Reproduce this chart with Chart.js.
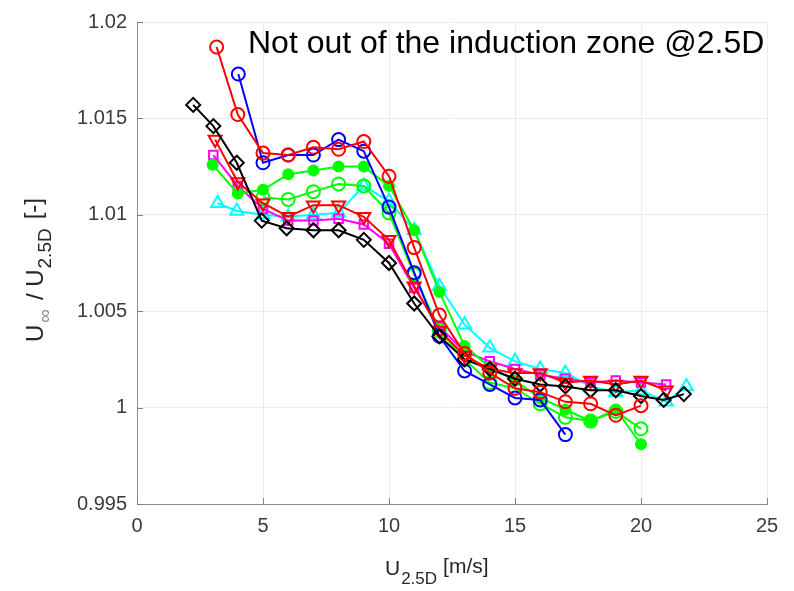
<!DOCTYPE html>
<html>
<head>
<meta charset="utf-8">
<script src="https://cdn.jsdelivr.net/npm/chart.js"></script>
<style>
  html, body { margin: 0; padding: 0; background: #fff; }
  #wrap { width: 794px; height: 591px; position: relative; }
</style>
</head>
<body>
<div id="wrap"><canvas id="chart" width="794" height="591"></canvas></div>
<script>
// wind speed U_2.5D [m/s] and ratio U_inf / U_2.5D
const xTicks = [0, 5, 10, 15, 20, 25];
const yTicks = [0.995, 1, 1.005, 1.01, 1.015, 1.02];

const redCircleX = [3.16, 4, 5, 6, 7, 8, 9, 10, 11, 12, 13, 14, 15, 16, 17, 18, 19, 20];
const redCircleY = [1.0187, 1.0152, 1.0132, 1.0131, 1.0135, 1.0134, 1.0138, 1.0120, 1.0083, 1.0048, 1.0028, 1.0018, 1.0010, 1.0008, 1.0003, 1.0002, 0.9996, 1.0001];

const blueX = [4.02, 5, 6, 7, 8, 9, 10, 11, 12, 13, 14, 15, 16, 17];
const blueY = [1.0173, 1.0127, 1.0131, 1.0131, 1.0139, 1.0133, 1.0104, 1.0070, 1.0037, 1.0019, 1.0012, 1.0005, 1.0004, 0.9986];

const greenFillX = [3, 4, 5, 6, 7, 8, 9, 10, 11, 12, 13, 14, 15, 16, 17, 18, 19, 20];
const greenFillY = [1.0126, 1.0111, 1.0113, 1.0121, 1.0123, 1.0125, 1.0125, 1.0115, 1.0092, 1.0060, 1.0032, 1.0021, 1.0014, 1.0005, 0.9999, 0.9993, 0.9999, 0.9981];

const greenOpenX = [5, 6, 7, 8, 9, 10, 11, 12, 13, 14, 15, 16, 17, 18, 19, 20];
const greenOpenY = [1.0109, 1.0108, 1.0112, 1.0116, 1.0115, 1.0101, 1.0069, 1.0040, 1.0025, 1.0013, 1.0010, 1.0002, 0.9995, 0.9993, 0.9998, 0.9989];

const cyanX = [3.2, 3.96, 5, 6, 7, 8, 9, 10, 11, 12, 13, 14, 15, 16, 17, 18, 19, 20, 21, 21.8];
const cyanY = [1.0106, 1.0102, 1.0100, 1.0099, 1.0100, 1.0101, 1.0115, 1.0107, 1.0092, 1.0063, 1.0043, 1.0031, 1.0024, 1.0020, 1.0018, 1.0011, 1.0008, 1.0009, 1.0003, 1.0011];

const magentaX = [3.03, 4, 5, 6, 7, 8, 9, 10, 11, 12, 13, 14, 15, 16, 17, 18, 19, 20, 21];
const magentaY = [1.0131, 1.0115, 1.0103, 1.0097, 1.0097, 1.0098, 1.0095, 1.0085, 1.0062, 1.0042, 1.0029, 1.0024, 1.0020, 1.0017, 1.0015, 1.0013, 1.0014, 1.0013, 1.0012];

const redTriX = [3.1, 4, 5, 6, 7, 8, 9, 10, 11, 12, 13, 14, 15, 16, 17, 18, 19, 20, 21];
const redTriY = [1.0139, 1.0117, 1.0106, 1.0099, 1.0105, 1.0105, 1.0099, 1.0087, 1.0063, 1.0040, 1.0027, 1.0020, 1.0018, 1.0018, 1.0013, 1.0014, 1.0012, 1.0014, 1.0009];

const blackX = [2.23, 3.03, 3.96, 4.95, 5.94, 7, 8, 9, 10, 11, 12, 13, 14, 15, 16, 17, 18, 19, 20, 20.9, 21.7];
const blackY = [1.0157, 1.0146, 1.0127, 1.0097, 1.0093, 1.0092, 1.0092, 1.0087, 1.0075, 1.0054, 1.0037, 1.0025, 1.0020, 1.0015, 1.0012, 1.0011, 1.0009, 1.0009, 1.0006, 1.0004, 1.0007];

const annotation = 'Not out of the induction zone @2.5D';

function pts(xs, ys) {
  return xs.map((x, i) => ({ x, y: ys[i] }));
}

function series(xs, ys, color, style, opts) {
  return Object.assign({
    data: pts(xs, ys),
    borderColor: color,
    backgroundColor: 'rgba(0,0,0,0)',
    pointBorderColor: color,
    pointBackgroundColor: 'rgba(0,0,0,0)',
    pointStyle: style,
    pointRadius: 6.5,
    pointBorderWidth: 2,
    borderWidth: 2,
    tension: 0,
    showLine: true
  }, opts || {});
}

// draws axis titles (with subscripts), inward ticks and the text label
const decorations = {
  id: 'decorations',
  afterDraw(chart) {
    const ctx = chart.ctx;
    const xs = chart.scales.x, ys = chart.scales.y;
    const a = chart.chartArea;
    ctx.save();

    // inward tick marks
    ctx.strokeStyle = '#7f7f7f';
    ctx.lineWidth = 1;
    xTicks.forEach(v => {
      const px = Math.round(xs.getPixelForValue(v)) + 0.5;
      ctx.beginPath(); ctx.moveTo(px, a.bottom); ctx.lineTo(px, a.bottom - 6); ctx.stroke();
    });
    yTicks.forEach(v => {
      const py = Math.round(ys.getPixelForValue(v)) + 0.5;
      ctx.beginPath(); ctx.moveTo(a.left, py); ctx.lineTo(a.left + 6, py); ctx.stroke();
    });

    // x title: U_2.5D [m/s]
    ctx.fillStyle = '#262626';
    ctx.textBaseline = 'alphabetic';
    ctx.textAlign = 'left';
    const big = '21px "Liberation Sans", Arial, sans-serif';
    const small = '17px "Liberation Sans", Arial, sans-serif';
    let x = 385, base = 575;
    ctx.font = big; ctx.fillText('U', x, base); x += ctx.measureText('U').width + 1;
    ctx.font = small; ctx.fillText('2.5D', x, base + 9); x += ctx.measureText('2.5D').width + 6;
    ctx.font = big; ctx.fillText('[m/s]', x, base - 2);

    // y title: U_inf / U_2.5D [-]
    ctx.translate(43, 342);
    ctx.rotate(-Math.PI / 2);
    const yBig = '24px "Liberation Sans", Arial, sans-serif';
    const ySmall = '19px "Liberation Sans", Arial, sans-serif';
    x = 0; base = 0;
    ctx.font = yBig; ctx.fillText('U', x, base); x += ctx.measureText('U').width + 2;
    ctx.font = ySmall; ctx.fillStyle = '#8a8a8a'; ctx.fillText('\u221E', x, base + 8); x += ctx.measureText('\u221E').width + 9;
    ctx.fillStyle = '#262626';
    ctx.font = yBig; ctx.fillText('/ U', x, base); x += ctx.measureText('/ U').width + 1;
    ctx.font = ySmall; ctx.fillText('2.5D', x, base + 8); x += ctx.measureText('2.5D').width + 9;
    ctx.font = yBig; ctx.fillText('[-]', x, base - 2);
    ctx.restore();

    // annotation
    ctx.save();
    ctx.fillStyle = '#000';
    ctx.font = '32px "Liberation Sans", Arial, sans-serif';
    ctx.textAlign = 'left';
    ctx.textBaseline = 'alphabetic';
    ctx.fillText(annotation, 248, 53);
    ctx.restore();
  }
};

const tickFont = { family: '"Liberation Sans", Arial, sans-serif', size: 20 };

new Chart(document.getElementById('chart'), {
  type: 'scatter',
  data: {
    datasets: [
      series(redCircleX, redCircleY, '#ff0000', 'circle'),
      series(blackX, blackY, '#000000', 'rectRot', { pointRadius: 7 }),
      series(redTriX, redTriY, '#ff0000', 'triangle', { pointRadius: 7.5, pointRotation: 180 }),
      series(blueX, blueY, '#0000ff', 'circle'),
      series(greenFillX, greenFillY, '#00ff00', 'circle', { pointRadius: 5, pointBackgroundColor: '#00ff00' }),
      series(greenOpenX, greenOpenY, '#00ff00', 'circle'),
      series(magentaX, magentaY, '#ff00ff', 'rect', { pointRadius: 6 }),
      series(cyanX, cyanY, '#00ffff', 'triangle', { pointRadius: 7.5 })
    ]
  },
  options: {
    responsive: false,
    animation: false,
    layout: { padding: { top: 17, right: 27, left: 0, bottom: 0 } },
    plugins: { legend: { display: false }, tooltip: { enabled: false } },
    scales: {
      x: {
        type: 'linear', min: 0, max: 25,
        afterFit: s => { s.height = 87; },
        afterBuildTicks: s => { s.ticks = xTicks.map(v => ({ value: v })); },
        ticks: { font: tickFont, color: '#3a3a3a', padding: 10, maxRotation: 0 },
        grid: { color: '#ececec', drawTicks: false },
        border: { color: '#8c8c8c', width: 1 }
      },
      y: {
        type: 'linear', min: 0.995, max: 1.02,
        afterFit: s => { s.width = 137; },
        afterBuildTicks: s => { s.ticks = yTicks.map(v => ({ value: v })); },
        ticks: { font: tickFont, color: '#3a3a3a', padding: 10, callback: v => String(+v.toFixed(3)) },
        grid: { color: '#ececec', drawTicks: false },
        border: { color: '#8c8c8c', width: 1 }
      }
    }
  },
  plugins: [decorations]
});
</script>
</body>
</html>
